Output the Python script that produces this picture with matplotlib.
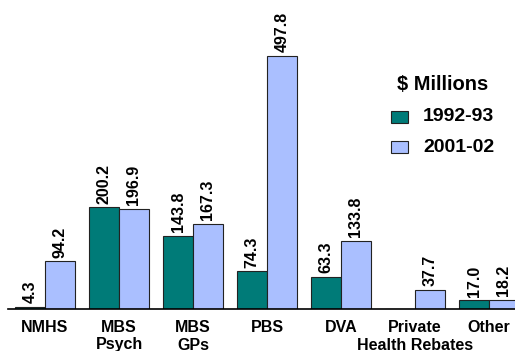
import numpy as np
import matplotlib.pyplot as plt
from matplotlib.patches import Rectangle
from matplotlib.transforms import blended_transform_factory

plt.rcParams['font.family'] = ['Liberation Sans', 'DejaVu Sans']

categories = ['NMHS', 'MBS\nPsych', 'MBS\nGPs', 'PBS', 'DVA', 'Private\nHealth Rebates', 'Other']
y1992 = [4.3, 200.2, 143.8, 74.3, 63.3, 0.0, 17.0]
y2001 = [94.2, 196.9, 167.3, 497.8, 133.8, 37.7, 18.2]
labels1992 = ['4.3', '200.2', '143.8', '74.3', '63.3', '', '17.0']
labels2001 = ['94.2', '196.9', '167.3', '497.8', '133.8', '37.7', '18.2']
series = ['1992-93', '2001-02']

teal = '#007B78'
lblue = '#AABFFF'

W, H = 515, 351
fig = plt.figure(figsize=(W/100, H/100), dpi=100)
ax = fig.add_axes([8/W, 42/H, 507/W, 305/H])

x = np.arange(len(categories))
w = 0.4
ax.bar(x - w/2, y1992, w, color=teal, edgecolor='#222222', linewidth=0.8)
ax.bar(x + w/2, y2001, w, color=lblue, edgecolor='#222222', linewidth=0.8)

for xi, v, t in zip(x - w/2, y1992, labels1992):
    if t:
        ax.text(xi, v + 7, t, rotation=90, ha='center', va='bottom', fontsize=11.5, fontweight='bold')
for xi, v, t in zip(x + w/2, y2001, labels2001):
    ax.text(xi, v + 7, t, rotation=90, ha='center', va='bottom', fontsize=11.5, fontweight='bold')

ax.set_xlim(-0.5, 6.35)
ax.set_ylim(0, 600)
for s in ['top', 'right', 'left']:
    ax.spines[s].set_visible(False)
ax.spines['bottom'].set_linewidth(1.2)
ax.set_yticks([])
ax.set_xticks([])

# category labels, one text per line
trans = blended_transform_factory(ax.transData, fig.transFigure)
for xi, cat in zip(x, categories):
    for j, line in enumerate(cat.split('\n')):
        ax.text(xi, 1 - (327 + 18 * j)/H, line, transform=trans, ha='center', va='center',
                fontsize=11.5, fontweight='bold', clip_on=False)

# legend drawn by hand
fig.text(443/W, 1 - 85/H, '$ Millions', ha='center', va='center', fontsize=14.5, fontweight='bold')
for i, (name, col) in enumerate(zip(series, [teal, lblue])):
    yc = 117 + 30 * i
    fig.add_artist(Rectangle((391/W, 1 - (yc + 6)/H), 17/W, 12/H, transform=fig.transFigure,
                             facecolor=col, edgecolor='#222222', linewidth=0.8))
    fig.text(423/W, 1 - yc/H, name, ha='left', va='center', fontsize=14, fontweight='bold')

fig.savefig('out.png', dpi=100)
